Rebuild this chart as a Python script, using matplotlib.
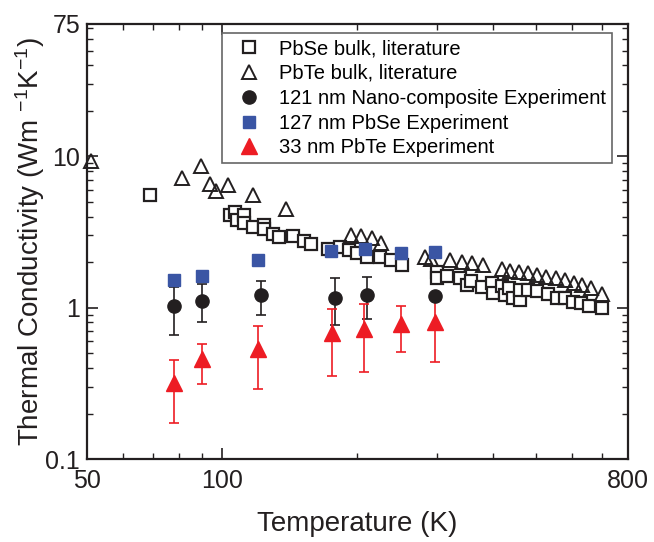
import matplotlib
matplotlib.use('Agg')
import matplotlib.pyplot as plt
from matplotlib.lines import Line2D
from matplotlib.ticker import FixedLocator, NullFormatter

plt.rcParams['font.family'] = ['Liberation Sans', 'DejaVu Sans']
plt.rcParams['mathtext.fontset'] = 'custom'
plt.rcParams['mathtext.rm'] = 'Liberation Sans'
plt.rcParams['mathtext.it'] = 'Liberation Sans:italic'
plt.rcParams['mathtext.bf'] = 'Liberation Sans:bold'

# PbSe bulk, literature
pbse_T = [69, 104, 107, 108, 112, 112, 117, 124, 124, 130, 134, 144, 152, 158, 172, 183, 192,
          200, 210, 224, 237, 251, 300, 301, 316, 338, 350, 358, 378, 398, 401, 419, 426, 434,
          444, 460, 460, 480, 501, 530, 555, 579, 604, 628, 656, 699]
pbse_k = [5.56, 4.10, 4.31, 3.80, 4.10, 3.61, 3.40, 3.52, 3.30, 3.07, 2.95, 2.98, 2.77, 2.64,
          2.43, 2.50, 2.40, 2.31, 2.17, 2.15, 2.07, 1.92, 1.73, 1.56, 1.62, 1.56, 1.41, 1.51,
          1.37, 1.45, 1.25, 1.40, 1.21, 1.34, 1.16, 1.13, 1.31, 1.31, 1.28, 1.23, 1.16, 1.16,
          1.09, 1.07, 1.02, 0.99]

# PbTe bulk, literature
pbte_T = [51, 81.5, 89.6, 93.9, 96.9, 102.8, 116.9, 138.4, 194, 204, 216, 226, 283, 292, 321,
          342, 360, 380, 419, 438, 458, 480, 501, 527, 553, 579, 607, 634, 664, 699]
pbte_k = [9.3, 7.17, 8.64, 6.57, 5.93, 6.5, 5.56, 4.49, 3.04, 2.98, 2.87, 2.66, 2.17, 2.09, 2.07,
          2.01, 1.97, 1.92, 1.80, 1.76, 1.73, 1.69, 1.64, 1.60, 1.56, 1.52, 1.46, 1.41, 1.34, 1.23]

# 121 nm nano-composite experiment
nc_T = [78, 90, 122, 178, 210, 298]
nc_k = [1.02, 1.11, 1.21, 1.16, 1.22, 1.19]
nc_hi = [1.36, 1.43, 1.49, 1.56, 1.60, 1.22]
nc_lo = [0.66, 0.80, 0.90, 0.77, 0.84, 1.16]

# 127 nm PbSe experiment
se_T = [78, 90, 120, 175, 208, 250, 298]
se_k = [1.52, 1.63, 2.07, 2.38, 2.45, 2.31, 2.33]

# 33 nm PbTe experiment
te_T = [78, 90, 120, 176, 207, 250, 298]
te_k = [0.316, 0.456, 0.531, 0.677, 0.723, 0.780, 0.808]
te_hi = [0.449, 0.578, 0.754, 0.975, 1.06, 1.02, 1.14]
te_lo = [0.174, 0.312, 0.291, 0.354, 0.376, 0.507, 0.438]

labels = ['PbSe bulk, literature', 'PbTe bulk, literature',
          '121 nm Nano-composite Experiment', '127 nm PbSe Experiment',
          '33 nm PbTe Experiment']

black = '#231f20'
blue = '#3a55a4'
red = '#ed1c24'

fig = plt.figure(figsize=(6.54, 5.42), dpi=100)
ax = fig.add_axes([0.133, 0.153, 0.827, 0.803])

h1, = ax.plot(pbse_T, pbse_k, 's', ms=8.5, mfc='white', mec=black, mew=1.6, clip_on=False)
h2, = ax.plot(pbte_T, pbte_k, '^', ms=10, mfc='none', mec=black, mew=1.4, clip_on=False)

nc_err = [[k - lo for k, lo in zip(nc_k, nc_lo)], [hi - k for k, hi in zip(nc_k, nc_hi)]]
ax.errorbar(nc_T, nc_k, yerr=nc_err, fmt='o', ms=9.5, color=black, ecolor=black,
            elinewidth=1.2, capsize=3.5, capthick=1.2)
h4, = ax.plot(se_T, se_k, 's', ms=8.5, color=blue, mec=blue)
te_err = [[k - lo for k, lo in zip(te_k, te_lo)], [hi - k for k, hi in zip(te_k, te_hi)]]
ax.errorbar(te_T, te_k, yerr=te_err, fmt='^', ms=11, color=red, ecolor=red,
            elinewidth=1.2, capsize=3.5, capthick=1.2)

h3 = Line2D([], [], ls='none', marker='o', ms=9.5, color=black)
h5 = Line2D([], [], ls='none', marker='^', ms=11, color=red)

ax.set_xscale('log')
ax.set_yscale('log')
ax.set_xlim(50, 800)
ax.set_ylim(0.1, 75)

ax.xaxis.set_major_locator(FixedLocator([50, 100, 800]))
ax.xaxis.set_minor_locator(FixedLocator([60, 70, 80, 90, 200, 300, 400, 500, 600, 700]))
ax.set_xticklabels(['50', '100', '800'])
ax.xaxis.set_minor_formatter(NullFormatter())

ax.yaxis.set_major_locator(FixedLocator([0.1, 1, 10, 75]))
ax.yaxis.set_minor_locator(FixedLocator([0.2, 0.3, 0.4, 0.5, 0.6, 0.7, 0.8, 0.9,
                                         2, 3, 4, 5, 6, 7, 8, 9,
                                         20, 30, 40, 50, 60, 70]))
ax.set_yticklabels(['0.1', '1', '10', '75'])
ax.yaxis.set_minor_formatter(NullFormatter())

ax.tick_params(which='both', direction='in', top=True, right=True, labelsize=18,
               color=black, labelcolor=black)
ax.tick_params(axis='x', which='major', pad=7)
ax.tick_params(axis='y', which='major', pad=5)
ax.tick_params(which='major', length=8, width=1.2)
ax.tick_params(which='minor', length=4, width=1.0)
for s in ax.spines.values():
    s.set_linewidth(1.6)
    s.set_color(black)

ax.set_xlabel('Temperature (K)', fontsize=20, color=black, labelpad=13)
ax.set_ylabel('Thermal Conductivity (Wm $^{-1}$K$^{-1}$)', fontsize=20, color=black,
              labelpad=-1)

leg = ax.legend([h1, h2, h3, h4, h5], labels, loc='upper left',
                bbox_to_anchor=(0.2495, 0.979), fontsize=14.5,
                frameon=True, fancybox=False, edgecolor='#666666', borderpad=0.3,
                labelspacing=0.29, handletextpad=0.45, handlelength=2.1,
                borderaxespad=0, framealpha=1)
leg.get_frame().set_linewidth(1.2)

plt.savefig('out.png', dpi=100)
